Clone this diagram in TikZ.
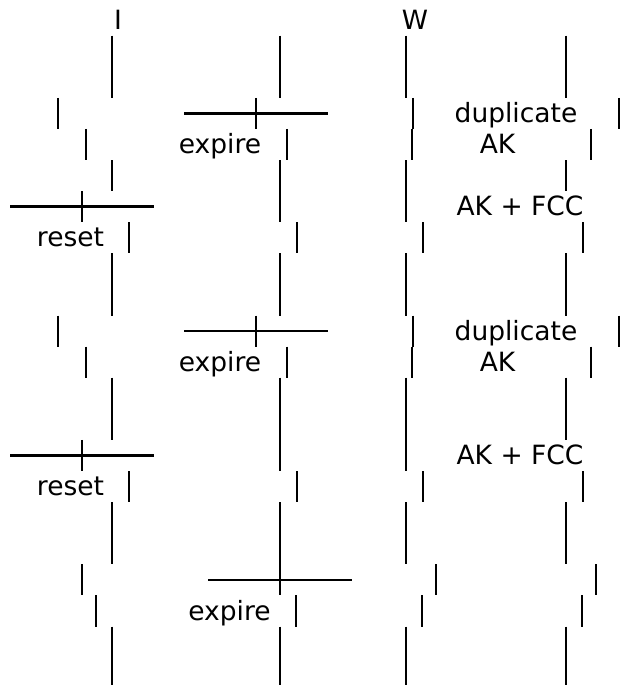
\documentclass[tikz,border=0pt]{standalone}
\usepackage{fontspec}
\setmainfont{DejaVu Sans}
\tikzset{
	bar/.style={line width=2.4pt},
	lbl/.style={inner sep=0pt, anchor=base, font=\fontsize{26.5}{31}\selectfont}
}

\begin{document}
\begin{tikzpicture}[x=1pt,y=-1pt]
	\clip (0,0) rectangle (624,685);
	% Headers
	\node[lbl] (hI) at (118,29.3) {I};
	\node[lbl] (hW) at (415,29.3) {W};
	
	% Plain lifeline rows
	\foreach \r [evaluate=\r as \ty using 4.5+31.1*\r] in {1,2,5,8,9,12,13,16,17,20,21}
		\foreach \x in {112,280,406,566}
			\draw[bar] (\x,\ty) -- (\x,{\ty+31.1});
	
	% Duplicate AK and expire
	\foreach \r [evaluate=\r as \ty using 4.5+31.1*\r] in {3,10} {
		\foreach \x in {58,256,413,619}
			\draw[bar] (\x,\ty) -- (\x,{\ty+31.1});
		\draw[bar] (184,{\ty+15.55}) -- (328,{\ty+15.55});
		\node[lbl] (dup\r) at (516,{\ty+24.75}) {duplicate};
		\foreach \x in {86,287,412,591}
			\draw[bar] (\x,{\ty+31.1}) -- (\x,{\ty+62.2});
		\node[lbl] (exp\r) at (220,{\ty+55.85}) {expire};
		\node[lbl] (ak\r) at (497.5,{\ty+55.85}) {AK};
	}
	
	% AK + FCC and reset
	\foreach \r [evaluate=\r as \ty using 4.5+31.1*\r] in {6,14} {
		\foreach \x in {82,280,406}
			\draw[bar] (\x,\ty) -- (\x,{\ty+31.1});
		\draw[bar] (10,{\ty+15.55}) -- (154,{\ty+15.55});
		\node[lbl] (fcc\r) at (520,{\ty+24.75}) {AK + FCC};
		\foreach \x in {129,297,423,583}
			\draw[bar] (\x,{\ty+31.1}) -- (\x,{\ty+62.2});
		\node[lbl] (rst\r) at (70.5,{\ty+55.85}) {reset};
	}
	
	% Last expire
	\foreach \r [evaluate=\r as \ty using 4.5+31.1*\r] in {18} {
		\foreach \x in {82,280,436,596}
			\draw[bar] (\x,\ty) -- (\x,{\ty+31.1});
		\draw[bar] (208,{\ty+15.55}) -- (352,{\ty+15.55});
		\foreach \x in {96,296,422,582}
			\draw[bar] (\x,{\ty+31.1}) -- (\x,{\ty+62.2});
		\node[lbl] (exp\r) at (229.5,{\ty+55.85}) {expire};
	}
\end{tikzpicture}
\end{document}
